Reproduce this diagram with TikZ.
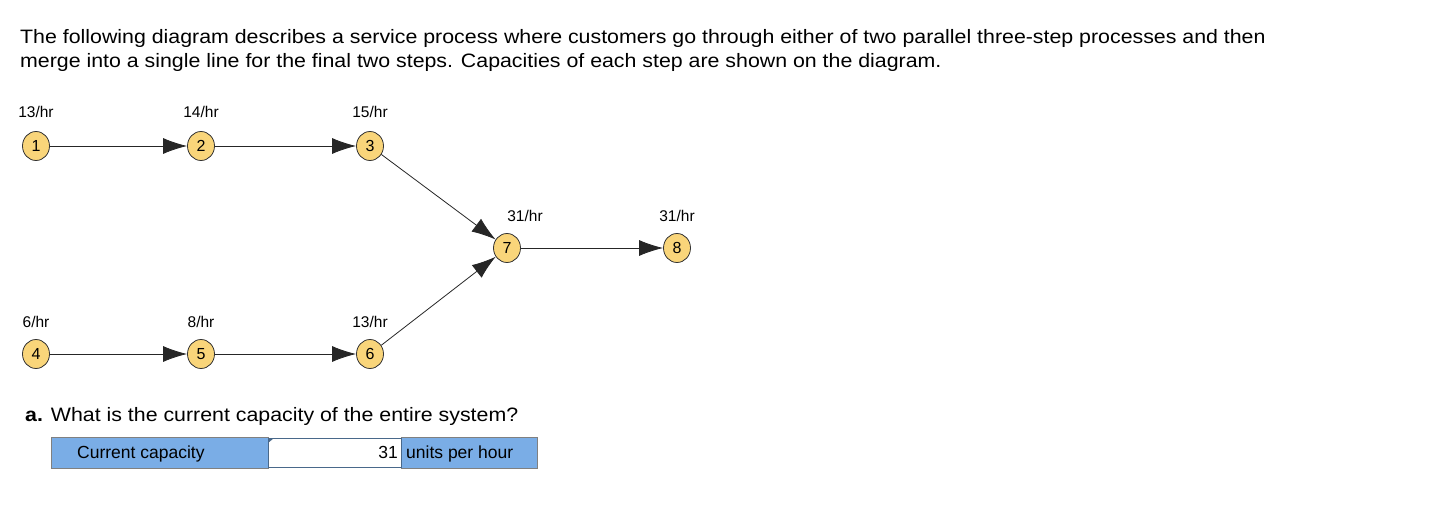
\documentclass[tikz,border=0pt]{standalone}
\usepackage{fontspec}
\setmainfont{Liberation Sans}
\newfontfamily\widefont[FakeStretch=1.1]{Liberation Sans}
\usetikzlibrary{arrows.meta,shapes.geometric}
\definecolor{nodefill}{HTML}{F9D57A}
\definecolor{boxblue}{HTML}{7AADE6}
\begin{document}
\begin{tikzpicture}[x=1pt,y=-1pt,
  step node/.style={ellipse,draw=black!80,fill=nodefill,line width=0.8pt,minimum width=27pt,minimum height=29pt,inner sep=0pt,font=\fontsize{16}{16}\selectfont},
  cap label/.style={font=\fontsize{15.5}{15.5}\selectfont,inner sep=0pt},
  flow/.style={draw=black!85,line width=0.8pt,-{Latex[length=24pt,width=16pt]}},
  wide text/.style={anchor=base west,inner sep=0pt,font=\widefont\fontsize{19.4}{19.4}\selectfont}]
\useasboundingbox (0,0) rectangle (1432,508);
\node[wide text] (t1) at (20,44) {The following diagram describes a service process where customers go through either of two parallel three-step processes and then};
\node[wide text] (t2) at (20,68) {merge into a single line for the final two steps. Capacities of each step are shown on the diagram.};
\node[step node] (n1) at (36,146) {1};
\node[step node] (n2) at (201,146) {2};
\node[step node] (n3) at (370,146) {3};
\node[step node] (n4) at (36,354) {4};
\node[step node] (n5) at (201,354) {5};
\node[step node] (n6) at (370,354) {6};
\node[step node] (n7) at (507,248) {7};
\node[step node] (n8) at (677,248) {8};
\node[cap label] (l1) at (36,112) {13/hr};
\node[cap label] (l2) at (201,112) {14/hr};
\node[cap label] (l3) at (370,112) {15/hr};
\node[cap label] (l4) at (36,322) {6/hr};
\node[cap label] (l5) at (201,322) {8/hr};
\node[cap label] (l6) at (370,322) {13/hr};
\node[cap label] (l7) at (525,216) {31/hr};
\node[cap label] (l8) at (677,216) {31/hr};
\draw[flow] (n1) -- (n2);
\draw[flow] (n2) -- (n3);
\draw[flow] (n4) -- (n5);
\draw[flow] (n5) -- (n6);
\draw[flow] (n3) -- (n7);
\draw[flow] (n6) -- (n7);
\draw[flow] (n7) -- (n8);
\node[wide text] (q) at (25,421) {\textbf{a.} What is the current capacity of the entire system?};
\node[draw=black!50,fill=boxblue,minimum width=217pt,minimum height=31pt,anchor=north west,inner sep=0pt,line width=0.8pt] (b1) at (51,437) {};
\node[anchor=base west,inner sep=0pt,font=\fontsize{17.5}{17.5}\selectfont] (b1t) at (77,458) {Current capacity};
\node[draw=black!50,fill=boxblue,minimum width=136pt,minimum height=31pt,anchor=north west,inner sep=0pt,line width=0.8pt] (b3) at (401,437) {};
\node[anchor=base west,inner sep=0pt,font=\fontsize{17.5}{17.5}\selectfont] (b3t) at (406,458) {units per hour};
\node[draw=boxblue!60!black,fill=white,minimum width=133pt,minimum height=29pt,anchor=north west,inner sep=0pt,line width=0.8pt] (b2) at (268,438) {};
\node[anchor=base east,inner sep=0pt,font=\fontsize{17.5}{17.5}\selectfont] (b2t) at (398,458) {31};
\fill[boxblue!60!black] (b2.north west) -- ++(6,0) -- ++(-6,5) -- cycle;
\end{tikzpicture}
\end{document}
